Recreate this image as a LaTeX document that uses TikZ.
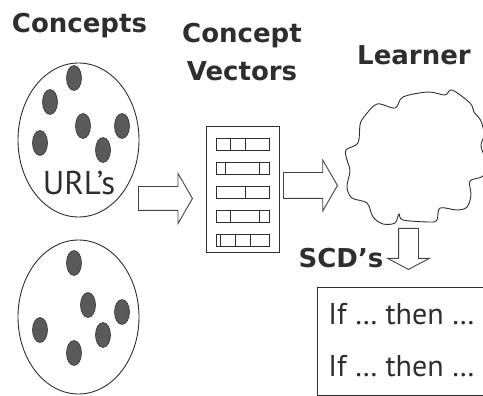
\documentclass[tikz,border=0pt]{standalone}
\usepackage{fontspec}
\setmainfont{PT Sans}
\newfontfamily\headfont{DejaVu Sans}
\usetikzlibrary{shapes.geometric,shapes.arrows}

\definecolor{inkgray}{HTML}{2E2E2E}
\definecolor{dotgray}{HTML}{5A5A5A}

\begin{document}
\begin{tikzpicture}[x=1pt,y=-1pt,line width=0.9pt,
        title/.style={font=\headfont\bfseries\fontsize{26}{26}\selectfont,
          text=inkgray,anchor=base,inner sep=0},
        plain/.style={font=\fontsize{30}{30}\selectfont,text=inkgray,
          anchor=base west,inner sep=0},
        bag/.style={draw=inkgray,ellipse,minimum width=121pt,
          minimum height=154pt,inner sep=0},
        url/.style={draw=inkgray,fill=dotgray,ellipse,minimum width=15pt,
          minimum height=25pt,inner sep=0,line width=0.6pt},
        fatarrow/.style={draw=inkgray!90,single arrow,anchor=tail,inner xsep=0,
          minimum width=0pt},
        cell/.style={draw=inkgray,line width=0.8pt}]
      \useasboundingbox (0,0) rectangle (483,396);
      \clip (0,0) rectangle (483,396);

      % headings
      \node[title] (hconc) at (79.5,33) {Concepts};
      \node[title] (hvec1) at (242,43) {Concept};
      \node[title] (hvec2) at (242,81) {Vectors};
      \node[title] (hlearn) at (414,65) {Learner};
      \node[title] (hscd) at (341,267) {SCD’s};

      % two bags of urls
      \node[bag] (bag1) at (78.5,140) {};
      \node[bag] (bag2) at (78.5,317) {};
      \foreach \x/\y [count=\i] in {74/78,50/102,83/126,122/126,40/143,103/150}
        \node[url] (u\i) at (\x,\y) {};
      \foreach \x/\y [count=\i] in {74/263,88/305,122/312,40/330,103/335,74/353}
        \node[url] (v\i) at (\x,\y) {};
      \node[font=\fontsize{33}{33}\selectfont,text=inkgray,anchor=base,
        inner sep=0] (urls) at (79,195) {URL’s};

      % table of concept vectors
      \node[draw=inkgray,minimum width=73pt,minimum height=126pt,inner sep=0]
        (vec) at (242.5,189) {};
      \foreach \r/\cuts in {1/{230.7,245},2/{225.7,259.3},3/{245},
          4/{230.7,259.3},5/{220,235,250}} {
        \pgfmathsetmacro\rowtop{114+24*\r}
        \draw[cell] (216,\rowtop) rectangle ++(53,12);
        \foreach \c in \cuts
          \draw[cell] (\c,\rowtop) -- ++(0,12);
      }

      % learner tree
      \draw[inkgray] plot[smooth cycle,tension=0.55] coordinates {
        (346,150) (358,143) (360,125) (364,117) (377,104) (395,108)
        (403,97) (428,92) (445,95) (452,90) (470,103) (474,112)
        (481,121) (484,135) (481,146) (486,162) (483,176) (470,181)
        (471,195) (467,207) (457,210) (440,208) (437,220) (430,222)
        (403,220) (399,214) (395,223) (383,224) (373,217) (367,203)
        (352,198) (347,187) (350,171) (347,160)};
      \coordinate (tree) at (415,158);

      % block arrows
      \node[fatarrow,inner ysep=11.5pt,single arrow head extend=13pt,
        single arrow tip angle=120,minimum height=54pt] (a1) at (138,198.5) {};
      \node[fatarrow,inner ysep=12.5pt,single arrow head extend=12.5pt,
        single arrow tip angle=120,minimum height=54pt] (a2) at (283,185.5) {};
      \node[fatarrow,inner ysep=9.5pt,single arrow head extend=11pt,
        single arrow tip angle=124,minimum height=41pt,rotate=-90]
        (a3) at (408.5,228) {};

      % rule box
      \node[draw=inkgray,anchor=north west,minimum width=220pt,
        minimum height=108pt,inner sep=0] (rules) at (317,287) {};
      \node[plain] (r1) at (328,324) {If … then …};
      \node[plain] (r2) at (328,377) {If … then …};
    \end{tikzpicture}
\end{document}
